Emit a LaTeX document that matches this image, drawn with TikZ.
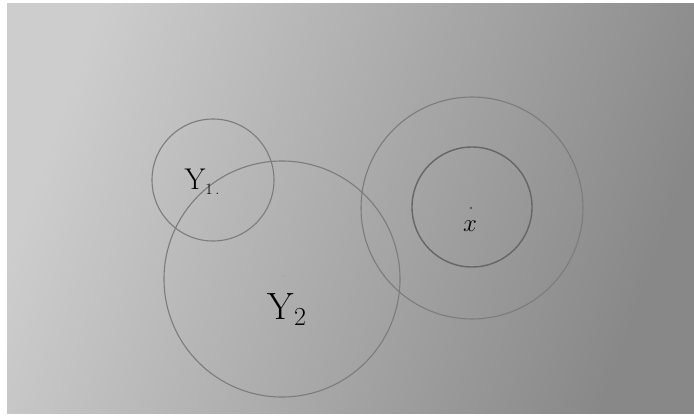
\documentclass[tikz,border=0pt]{standalone}
\usetikzlibrary{shadings}
\definecolor{pencil}{HTML}{7C7C7C}
\definecolor{paperL}{HTML}{CDCDCD}
\definecolor{paperR}{HTML}{888888}
\tikzset{
  ring/.style={draw=pencil, line width=1.1pt, circle, inner sep=0pt},
  hand/.style={text=black, inner sep=0pt},
  speck/.style={fill=black!75, circle, inner sep=0pt, minimum size=2.4pt}
}
\begin{document}
\begin{tikzpicture}[x=1pt,y=-1pt]
\useasboundingbox (0,0) rectangle (694,416);
\fill[white] (0,0) rectangle (694,416);
\shade[left color=paperL, right color=paperR, shading angle=70] (7,3) rectangle (694,413);
% circles
\node[ring, minimum size=122pt] (y1c) at (213,180) {};
\node[ring, minimum size=236pt] (y2c) at (282,279) {};
\node[ring, minimum size=222pt] (xo) at (472,208) {};
\node[ring, minimum size=120pt, line width=1.4pt, draw=black!60] (xi) at (472,207) {};
% centre dots
\node[speck] (xdot) at (471,208) {};
\node[speck, fill=black!35] (y2dot) at (284,276) {};
% labels
\node[hand, font=\fontsize{30}{32}\selectfont] (y1) at (202,182) {Y\raisebox{-5pt}{\fontsize{16}{16}\selectfont 1\,.}};
\node[hand, font=\fontsize{38}{40}\selectfont] (y2) at (287,310) {Y\raisebox{-6pt}{\fontsize{26}{26}\selectfont 2}};
\node[hand, font=\fontsize{26}{28}\selectfont] (x) at (470,226) {$x$};
\end{tikzpicture}
\end{document}
